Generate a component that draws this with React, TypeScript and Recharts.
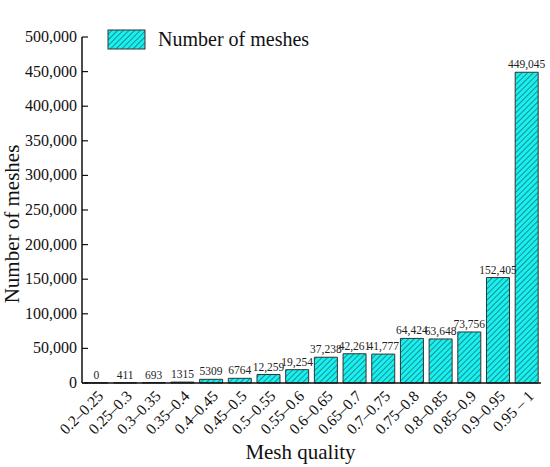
import React from "react";
import {
  BarChart,
  Bar,
  XAxis,
  YAxis,
  LabelList,
  Legend,
} from "recharts";

const ranges = [
  "0.2–0.25", "0.25–0.3", "0.3–0.35", "0.35–0.4", "0.4–0.45", "0.45–0.5",
  "0.5–0.55", "0.55–0.6", "0.6–0.65", "0.65–0.7", "0.7–0.75", "0.75–0.8",
  "0.8–0.85", "0.85–0.9", "0.9–0.95", "0.95 – 1",
];
const meshCounts = [
  0, 411, 693, 1315, 5309, 6764, 12259, 19254, 37238, 42261, 41777, 64424,
  63648, 73756, 152405, 449045,
];
const yTicks = [0, 50000, 100000, 150000, 200000, 250000, 300000, 350000, 400000, 450000, 500000];

const data = ranges.map((range, i) => ({ range, count: meshCounts[i] }));

const FONT = "'Liberation Serif', 'Times New Roman', serif";

const fmtAxis = (v: number) => (v === 0 ? "0" : v.toLocaleString("en-US"));
const fmtLabel = (v: number) => (v < 10000 ? String(v) : v.toLocaleString("en-US"));

function RotTick(props: any) {
  const { x, y, payload } = props;
  return (
    <g transform={`translate(${x + 8},${y + 6})`}>
      <text textAnchor="end" transform="rotate(-45)" fontFamily={FONT} fontSize={15.5} fill="#111">
        {payload.value}
      </text>
    </g>
  );
}

// inward tick mark plus label to the left of the axis
function YTick(props: any) {
  const { x, y, payload } = props;
  return (
    <g>
      <line x1={x} y1={y} x2={x + 6} y2={y} stroke="#111" strokeWidth={1.2} />
      <text x={x - 5} y={y} dy={5} textAnchor="end" fontFamily={FONT} fontSize={16} fill="#111">
        {fmtAxis(payload.value)}
      </text>
    </g>
  );
}

function YTitle(props: any) {
  const { viewBox } = props;
  const cy = viewBox.y + viewBox.height / 2 + 14;
  return (
    <text x={12} y={cy} transform={`rotate(-90, 12, ${cy})`} textAnchor="middle" dominantBaseline="central" fontFamily={FONT} fontSize={21} fill="#111">
      Number of meshes
    </text>
  );
}

function XTitle(props: any) {
  const { viewBox } = props;
  const cx = viewBox.x + viewBox.width / 2 - 11;
  return (
    <text x={cx} y={459} textAnchor="middle" fontFamily={FONT} fontSize={21} fill="#111">
      Mesh quality
    </text>
  );
}

function BarValue(props: any) {
  const { x, y, width, value } = props;
  return (
    <text x={x + width / 2} y={y - 4} textAnchor="middle" fontFamily={FONT} fontSize={11.5} fill="#222">
      {fmtLabel(value)}
    </text>
  );
}

function LegendBox() {
  return (
    <div style={{ display: "flex", alignItems: "center", fontFamily: FONT, fontSize: 20, color: "#111" }}>
      <svg width={40} height={21} style={{ marginRight: 11 }}>
        <rect x={1} y={1} width={37} height={19} fill="url(#hatch)" stroke="#333" strokeWidth={1} />
      </svg>
      Number of meshes
    </div>
  );
}

export default function App() {
  return (
    <div style={{ width: 550, height: 467 }}>
      <style>{`body{margin:0}`}</style>
      <BarChart
        width={550}
        height={467}
        data={data}
        margin={{ top: 14, right: 9, bottom: 0, left: 0 }}
        barCategoryGap="10%"
      >
        <defs>
          <pattern id="hatch" patternUnits="userSpaceOnUse" width={4} height={4} patternTransform="rotate(45)">
            <rect width={4} height={4} fill="#19F0F0" />
            <line x1={0} y1={0} x2={0} y2={4} stroke="#1b5a5a" strokeWidth={1.3} />
          </pattern>
        </defs>
        <XAxis
          dataKey="range"
          interval={0}
          tick={<RotTick />}
          tickLine={false}
          axisLine={{ stroke: "#111", strokeWidth: 1.5 }}
          height={84}
          label={<XTitle />}
        />
        <XAxis xAxisId="top" orientation="top" dataKey="range" tick={false} tickLine={false} height={0} axisLine={{ stroke: "#111", strokeWidth: 1.5 }} />
        <YAxis
          domain={[0, 500000]}
          ticks={yTicks}
          tickSize={0}
          tickMargin={0}
          tickLine={false}
          tick={<YTick />}
          axisLine={{ stroke: "#111", strokeWidth: 1.5 }}
          width={82}
          label={<YTitle />}
        />
        <YAxis yAxisId="right" orientation="right" tick={false} tickLine={false} width={0} axisLine={{ stroke: "#111", strokeWidth: 1.5 }} />
        <Legend
          verticalAlign="top"
          align="left"
          content={() => <LegendBox />}
          wrapperStyle={{ top: 28, left: 107 }}
        />
        <Bar dataKey="count" fill="url(#hatch)" stroke="#333" strokeWidth={1} minPointSize={0.2} isAnimationActive={false}>
          <LabelList dataKey="count" content={<BarValue />} />
        </Bar>
      </BarChart>
    </div>
  );
}
